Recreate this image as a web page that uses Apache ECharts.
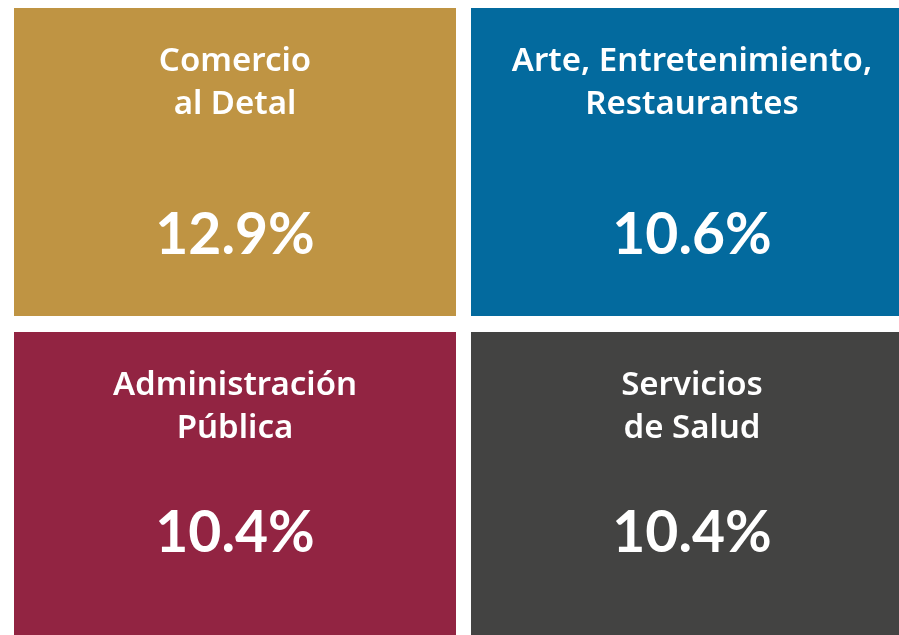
<!DOCTYPE html>
<html>
<head>
<meta charset="utf-8">
<script src="https://cdn.jsdelivr.net/npm/echarts@6/dist/echarts.min.js"></script>
<style>
html,body{margin:0;padding:0;background:#fff;overflow:hidden;}
#chart{width:960px;height:680px;}
</style>
</head>
<body>
<div id="chart"></div>
<script>
// Data
const titles = [
  "Comercio\nal Detal",
  "Arte, Entretenimiento,\nRestaurantes",
  "Administración\nPública",
  "Servicios\nde Salud"
];
const values = [12.9, 10.6, 10.4, 10.4];
const columns = ["0", "1"];
const rows = ["0", "1"];
const tileCol = [0, 1, 0, 1];
const tileRow = [0, 0, 1, 1];
const colors = ["#BF9443", "#036A9E", "#922442", "#434342"];

const chart = echarts.init(document.getElementById('chart'), null, {renderer: 'canvas'});

const data = values.map((v, i) => [tileCol[i], tileRow[i], v, i]);

const GAP_X = 15, GAP_Y = 16;
const valueOffsetByRow = [228, 202];

chart.setOption({
  animation: false,
  grid: {left: 14, top: 8, width: 914, height: 648},
  xAxis: {type: 'category', data: columns, show: false},
  yAxis: {type: 'category', data: rows, inverse: true, show: false},
  series: [{
    type: 'custom',
    data: data,
    renderItem: function (params, api) {
      const c = api.coord([api.value(0), api.value(1)]);
      const s = api.size([1, 1]);
      const idx = api.value(3);
      const row = api.value(1);
      const x0 = c[0] - s[0] / 2;
      const y0 = c[1] - s[1] / 2;
      const w = s[0] - GAP_X;
      const h = s[1] - GAP_Y;
      const cx = x0 + w / 2;
      const lines = titles[idx].split("\n");
      const children = [{
        type: 'rect',
        shape: {x: x0, y: y0, width: w, height: h},
        style: {fill: colors[idx]}
      }];
      lines.forEach((ln, k) => {
        children.push({
          type: 'text',
          x: cx, y: y0 + 54 + k * 43,
          style: {
            text: ln, fill: '#fff',
            font: '600 33px "Noto Sans"',
            align: 'center', verticalAlign: 'middle'
          }
        });
      });
      children.push({
        type: 'text',
        x: cx, y: y0 + valueOffsetByRow[row],
        style: {
          text: api.value(2).toFixed(1) + '%', fill: '#fff',
          font: 'bold 57px Lato',
          align: 'center', verticalAlign: 'middle'
        }
      });
      return {type: 'group', children: children};
    }
  }]
});
</script>
</body>
</html>
